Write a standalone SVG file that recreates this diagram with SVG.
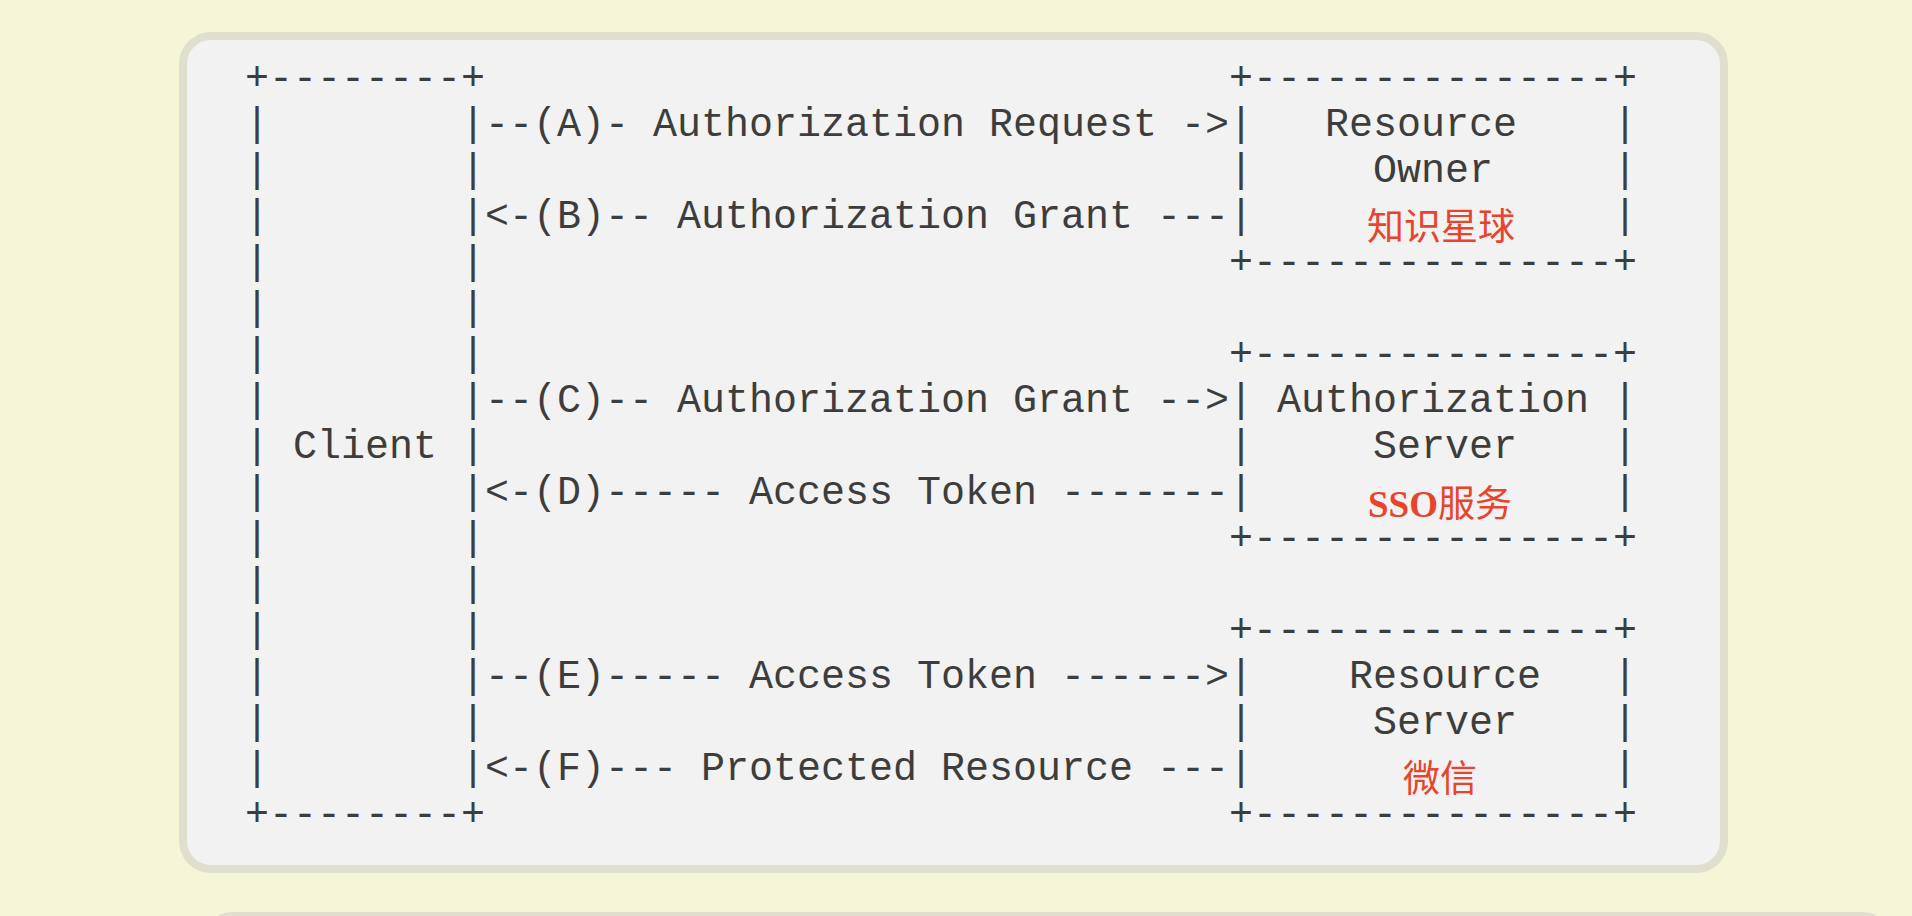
<svg xmlns="http://www.w3.org/2000/svg" width="1912" height="916" viewBox="0 0 1912 916" xml:space="preserve">
<style>
.bg{fill:#f5f6d8}
.panel{fill:#f2f2f2;stroke:#e0dfcd;stroke-width:8}
.m{font-family:"Liberation Mono","DejaVu Sans Mono",monospace;font-size:40px;fill:#3d3d3d;white-space:pre}
.red{font-family:"Liberation Serif","Noto Sans CJK SC",serif;font-size:37px;fill:#e9432b;text-anchor:middle}
.b{font-weight:bold}
</style>
<rect class="bg" x="0" y="0" width="1912" height="916"/>
<rect class="panel" x="183" y="36" width="1541" height="833" rx="28" ry="28"/>
<rect class="panel" x="205" y="916" width="1685" height="120" rx="28" ry="28"/>

<g id="client">
<text class="m" x="245" y="90">+--------+</text>
<text class="m" x="245" y="136">|        |</text>
<text class="m" x="245" y="182">|        |</text>
<text class="m" x="245" y="228">|        |</text>
<text class="m" x="245" y="274">|        |</text>
<text class="m" x="245" y="320">|        |</text>
<text class="m" x="245" y="366">|        |</text>
<text class="m" x="245" y="412">|        |</text>
<text class="m" x="245" y="458">| Client |</text>
<text class="m" x="245" y="504">|        |</text>
<text class="m" x="245" y="550">|        |</text>
<text class="m" x="245" y="596">|        |</text>
<text class="m" x="245" y="642">|        |</text>
<text class="m" x="245" y="688">|        |</text>
<text class="m" x="245" y="734">|        |</text>
<text class="m" x="245" y="780">|        |</text>
<text class="m" x="245" y="826">+--------+</text>
</g>

<g id="resource-owner">
<text class="m" x="1229" y="90">+---------------+</text>
<text class="m" x="1229" y="136">|   Resource    |</text>
<text class="m" x="1229" y="182">|     Owner     |</text>
<text class="m" x="1229" y="228">|</text>
<text class="m" x="1613" y="228">|</text>
<text class="m" x="1229" y="274">+---------------+</text>
<text class="red" x="1441" y="240">知识星球</text>
</g>

<g id="authorization-server">
<text class="m" x="1229" y="366">+---------------+</text>
<text class="m" x="1229" y="412">| Authorization |</text>
<text class="m" x="1229" y="458">|     Server    |</text>
<text class="m" x="1229" y="504">|</text>
<text class="m" x="1613" y="504">|</text>
<text class="m" x="1229" y="550">+---------------+</text>
<text class="red" x="1440" y="517"><tspan class="b">SSO</tspan>服务</text>
</g>

<g id="resource-server">
<text class="m" x="1229" y="642">+---------------+</text>
<text class="m" x="1229" y="688">|    Resource   |</text>
<text class="m" x="1229" y="734">|     Server    |</text>
<text class="m" x="1229" y="780">|</text>
<text class="m" x="1613" y="780">|</text>
<text class="m" x="1229" y="826">+---------------+</text>
<text class="red" x="1440" y="792">微信</text>
</g>

<g id="connectors">
<text class="m" x="485" y="136">--(A)- Authorization Request -&gt;</text>
<text class="m" x="485" y="228">&lt;-(B)-- Authorization Grant ---</text>
<text class="m" x="485" y="412">--(C)-- Authorization Grant --&gt;</text>
<text class="m" x="485" y="504">&lt;-(D)----- Access Token -------</text>
<text class="m" x="485" y="688">--(E)----- Access Token ------&gt;</text>
<text class="m" x="485" y="780">&lt;-(F)--- Protected Resource ---</text>
</g>
</svg>
